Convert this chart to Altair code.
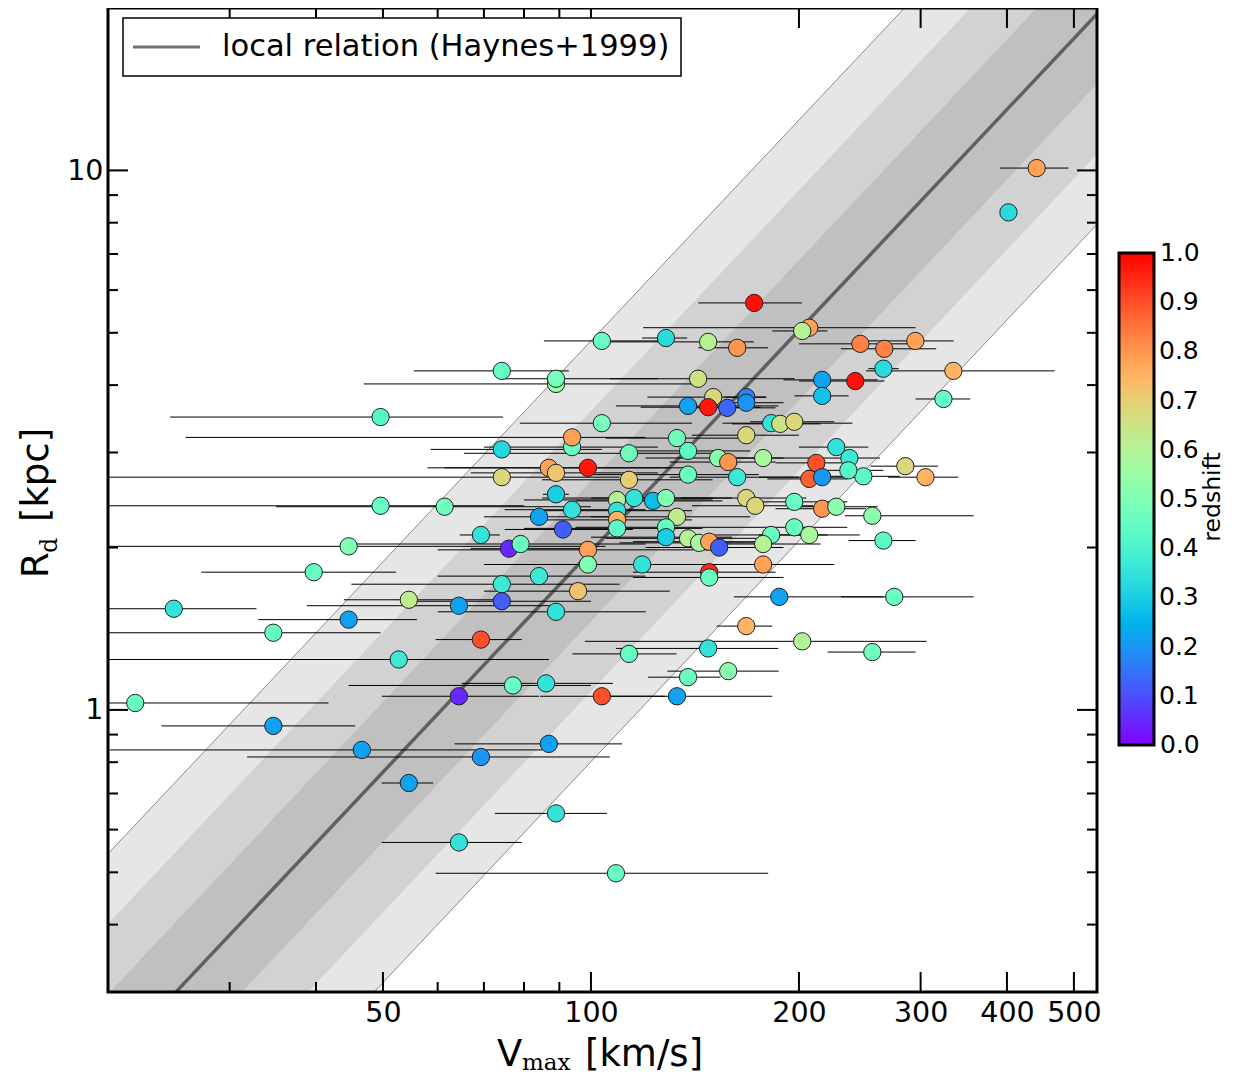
import altair as alt
import numpy as np
import pandas as pd

# ---------------- data ----------------
vmax = [441.6, 402.0, 172.3, 207.0, 202.2, 128.4, 147.8, 162.8, 103.7, 245.4,
        265.8, 294.8, 265.0, 334.6, 241.3, 216.1, 216.1, 323.7, 142.9, 150.3,
        138.2, 147.8, 157.5, 167.8, 167.8, 182.3, 187.9, 196.9, 167.8, 133.2,
        138.2, 113.5, 152.8, 158.0, 177.5, 226.5, 236.6, 247.9, 211.9, 207.0,
        216.1, 235.8, 138.2, 162.8, 113.5, 285.1, 304.9, 255.4, 265.0, 274.8,
        255.4, 202.2, 167.8, 187.3, 147.8, 113.5, 158.0, 138.2, 133.2, 103.7,
        108.7, 89.0, 64.4, 54.5, 69.3, 86.9, 46.6, 34.7, 21.9, 64.4,
        77.1, 86.1, 52.7, 69.3, 44.6, 34.7, 24.9, 39.7, 44.6, 49.6,
        61.4, 49.6, 74.3, 89.0, 89.0, 103.7, 93.9, 93.9, 74.3, 86.9,
        89.0, 99.0, 74.3, 89.0, 93.9, 84.1, 91.1, 109.1, 109.1, 109.1,
        109.1, 69.3, 76.1, 79.1, 99.0, 99.0, 84.1, 74.3, 95.8, 54.5,
        64.4, 74.3, 89.0, 115.5, 123.0, 128.4, 167.8, 172.9, 196.9, 216.1,
        226.5, 133.2, 128.4, 128.4, 138.2, 143.4, 148.3, 153.3, 196.9, 207.0,
        182.3, 177.5, 118.6, 177.5, 148.3, 148.3]
rd = [10.1, 8.36, 5.68, 5.11, 5.04, 4.89, 4.81, 4.69, 4.83, 4.77,
      4.67, 4.83, 4.29, 4.25, 4.07, 4.09, 3.82, 3.77, 4.11, 3.80,
      3.66, 3.64, 3.63, 3.80, 3.71, 3.40, 3.39, 3.42, 3.23, 3.19,
      3.02, 2.99, 2.93, 2.88, 2.93, 3.07, 2.93, 2.71, 2.87, 2.68,
      2.70, 2.78, 2.73, 2.70, 2.67, 2.83, 2.70, 2.29, 2.06, 1.62,
      1.28, 1.34, 1.43, 1.62, 1.30, 1.27, 1.18, 1.15, 1.06, 1.06,
      0.498, 0.643, 0.568, 0.732, 0.818, 0.865, 0.843, 0.934, 1.03, 1.06,
      1.11, 1.12, 1.24, 1.35, 1.47, 1.39, 1.54, 1.80, 2.01, 2.39,
      2.38, 3.49, 4.25, 4.02, 4.11, 3.40, 3.07, 3.20, 3.04, 2.81,
      2.75, 2.81, 2.70, 2.51, 2.35, 2.28, 2.16, 2.45, 2.34, 2.25,
      2.17, 2.11, 1.99, 2.03, 1.98, 1.86, 1.77, 1.71, 1.66, 1.60,
      1.56, 1.59, 1.52, 2.47, 2.44, 2.47, 2.47, 2.39, 2.43, 2.36,
      2.38, 2.28, 2.18, 2.09, 2.08, 2.04, 2.05, 2.00, 2.18, 2.11,
      2.11, 2.03, 1.86, 1.86, 1.80, 1.76]
vlo = [391, 396, 143, 119, 183, 118.6, 106.5, 143, 85.5, 200,
       230, 250, 252, 250, 200, 190, 197, 295, 106.5, 120.7,
       108.7, 118, 135, 156, 145, 155, 160, 170, 140, 105,
       110, 65.5, 120, 130, 150, 200, 210, 215, 185, 180,
       175, 205, 100, 130, 85, 254, 269, 233, 236, 230,
       220, 98, 152, 161, 108.7, 94, 129, 121, 105, 84.4,
       59.6, 72.6, 49.8, 49.8, 31.8, 63.5, 20.1, 23.9, 20, 49.8,
       44.6, 65, 20, 59.6, 33, 20, 20, 27.3, 20, 20,
       35, 24.6, 55.4, 46.9, 74.6, 78.9, 70, 25.9, 58.6, 58,
       67, 61.4, 20, 85.2, 75, 70, 75, 80, 85, 85,
       80, 64.6, 67, 45, 60, 70, 60, 45, 70, 43.9,
       38.8, 55, 60, 85, 95, 100, 135, 140, 165, 185,
       195, 100, 95, 100, 105, 110, 115, 120, 165, 175,
       150, 145, 90, 140, 115, 115]
vhi = [491, 408, 202, 295, 220, 137.8, 172, 180.5, 128, 290,
       316, 335, 279, 469, 266, 260, 236, 354, 197, 179,
       186.7, 176, 185, 179.5, 190, 239, 215, 225, 200, 165,
       170, 150, 190, 185, 210, 252, 262, 280, 240, 235,
       250, 265, 175, 200, 150, 318, 340, 358, 295, 358,
       295, 306, 183, 265, 186.7, 133, 187, 154, 183, 128,
       180.5, 105.5, 79.4, 59.1, 106.5, 110.9, 85, 45.6, 41.7, 84.1,
       100, 107.6, 86.9, 79.4, 56, 49.6, 32.8, 52.2, 105, 80,
       100, 74.6, 92.9, 145, 125, 140, 125, 120, 103.7, 130,
       125, 140, 110, 92.9, 120, 110, 115, 150, 140, 140,
       145, 73.8, 100, 120, 150, 140, 120, 110, 130, 75,
       90, 100, 120, 150, 155, 160, 205, 210, 235, 250,
       260, 170, 165, 160, 175, 180, 185, 190, 235, 245,
       220, 215, 155, 225, 185, 190]
zred = [0.78, 0.33, 0.98, 0.78, 0.60, 0.33, 0.60, 0.80, 0.45, 0.83,
        0.83, 0.78, 0.33, 0.75, 0.98, 0.22, 0.28, 0.45, 0.65, 0.68,
        0.22, 0.97, 0.13, 0.17, 0.20, 0.35, 0.65, 0.68, 0.68, 0.47,
        0.43, 0.47, 0.52, 0.80, 0.58, 0.35, 0.37, 0.43, 0.90, 0.88,
        0.20, 0.42, 0.45, 0.37, 0.70, 0.68, 0.75, 0.52, 0.43, 0.45,
        0.47, 0.60, 0.75, 0.22, 0.35, 0.45, 0.52, 0.45, 0.22, 0.90,
        0.45, 0.35, 0.35, 0.22, 0.20, 0.22, 0.22, 0.22, 0.45, 0.05,
        0.45, 0.35, 0.37, 0.90, 0.22, 0.45, 0.35, 0.45, 0.50, 0.45,
        0.47, 0.42, 0.45, 0.55, 0.48, 0.48, 0.45, 0.78, 0.32, 0.78,
        0.72, 0.97, 0.68, 0.30, 0.35, 0.22, 0.12, 0.60, 0.35, 0.75,
        0.43, 0.35, 0.05, 0.45, 0.78, 0.50, 0.37, 0.37, 0.72, 0.62,
        0.22, 0.12, 0.35, 0.35, 0.27, 0.50, 0.68, 0.68, 0.45, 0.80,
        0.52, 0.62, 0.45, 0.30, 0.60, 0.58, 0.78, 0.12, 0.45, 0.58,
        0.45, 0.60, 0.35, 0.78, 0.95, 0.45]

x_major = [50, 100, 200, 300, 400, 500]
x_minor = [30, 40, 60, 70, 80, 90]
y_major = [1, 10]
y_minor = [0.3, 0.4, 0.5, 0.6, 0.7, 0.8, 0.9, 2, 3, 4, 5, 6, 7, 8, 9]
z_inner_ticks = [0.1, 0.2, 0.3, 0.4, 0.5, 0.6, 0.7, 0.8, 0.9]
z_end_labels = ["1.0", "0.0"]

# local relation (log Rd = a + b log Vmax) and its scatter
rel_slope = 1.36
rel_icpt = -2.426
rel_sigma = 0.13
x_ends = [20.0, 540.0]
rel_label = "local relation (Haynes+1999)"

W, H = 989, 984
FONT = "DejaVu Sans"

xs = alt.Scale(type="log", domain=[20, 540])
ys = alt.Scale(type="log", domain=[0.3, 20])

xax = alt.Axis(values=x_major, format="d", ticks=False, tickSize=0, domain=False, grid=False,
               labelFont=FONT, labelFontSize=28.5, labelColor="black", labelPadding=6,
               labelFlush=False, labelOverlap=False, title=None)
yax = alt.Axis(values=y_major, format="d", ticks=False, tickSize=0, domain=False, grid=False,
               labelFont=FONT, labelFontSize=28.5, labelColor="black", labelPadding=5,
               labelFlush=False, labelOverlap=False, title=None)


# matplotlib 'rainbow' colormap stops
def rainbow_hex(t):
    r = min(1.0, abs(2 * t - 0.5))
    g = max(0.0, min(1.0, np.sin(np.pi * t)))
    b = max(0.0, min(1.0, np.cos(np.pi * t / 2)))
    return "#%02x%02x%02x" % (int(round(r * 255)), int(round(g * 255)), int(round(b * 255)))


cm_dom = [float(t) for t in np.linspace(0, 1, 21)]
cm_rng = [rainbow_hex(t) for t in cm_dom]

pts = pd.DataFrame({"v": vmax, "r": rd, "lo": vlo, "hi": vhi, "z": zred})

lv = np.log10(np.array(x_ends))
mid = rel_icpt + rel_slope * lv


def band(k):
    return pd.DataFrame({"v": x_ends, "lo": 10 ** (mid - k * rel_sigma), "hi": 10 ** (mid + k * rel_sigma)})


def seg(k):
    return pd.DataFrame({"v1": [x_ends[0]], "v2": [x_ends[1]],
                         "r1": [10 ** (mid[0] + k * rel_sigma)], "r2": [10 ** (mid[1] + k * rel_sigma)]})


layers = []
for k, col in [(3, "#e6e6e6"), (2, "#d2d2d2"), (1, "#c0c0c0")]:
    layers.append(alt.Chart(band(k)).mark_area(color=col, clip=True).encode(
        x=alt.X("v:Q", scale=xs, axis=xax),
        y=alt.Y("lo:Q", scale=ys, axis=yax),
        y2="hi:Q"))

for k in (3, -3):
    layers.append(alt.Chart(seg(k)).mark_rule(color="#8c8c8c", strokeWidth=1, clip=True).encode(
        x=alt.X("v1:Q", scale=xs, axis=xax), x2="v2:Q",
        y=alt.Y("r1:Q", scale=ys, axis=yax), y2="r2:Q"))

layers.append(alt.Chart(seg(0)).mark_rule(color="#606060", strokeWidth=3.5, clip=True).encode(
    x=alt.X("v1:Q", scale=xs, axis=xax), x2="v2:Q",
    y=alt.Y("r1:Q", scale=ys, axis=yax), y2="r2:Q"))

# horizontal error bars
layers.append(alt.Chart(pts).mark_rule(color="black", strokeWidth=1, clip=True).encode(
    x=alt.X("lo:Q", scale=xs, axis=xax), x2="hi:Q",
    y=alt.Y("r:Q", scale=ys, axis=yax)))

# points coloured by redshift (with colour bar)
layers.append(alt.Chart(pts).mark_circle(size=300, stroke="#222222", strokeWidth=1, opacity=1, clip=True).encode(
    x=alt.X("v:Q", scale=xs, axis=xax),
    y=alt.Y("r:Q", scale=ys, axis=yax),
    fill=alt.Fill("z:Q", scale=alt.Scale(domain=cm_dom, range=cm_rng, interpolate="rgb"),
                  legend=alt.Legend(orient="none", legendX=1011, legendY=245, direction="vertical",
                                    gradientLength=492, gradientThickness=35,
                                    gradientStrokeColor="black", gradientStrokeWidth=3,
                                    values=z_inner_ticks, format=".1f", labelFont=FONT, labelFontSize=25,
                                    labelColor="black", labelOffset=5, labelOverlap=False,
                                    title=None, padding=0))))


# inside ticks on all four sides
def ticks(vals, side, length):
    d = pd.DataFrame({"t": vals})
    m = alt.Chart(d).mark_rule(color="black", strokeWidth=2)
    if side == "bottom":
        return m.encode(x=alt.X("t:Q", scale=xs, axis=xax), y=alt.value(H - length), y2=alt.value(H))
    if side == "top":
        return m.encode(x=alt.X("t:Q", scale=xs, axis=xax), y=alt.value(0), y2=alt.value(length))
    if side == "left":
        return m.encode(y=alt.Y("t:Q", scale=ys, axis=yax), x=alt.value(0), x2=alt.value(length))
    return m.encode(y=alt.Y("t:Q", scale=ys, axis=yax), x=alt.value(W - length), x2=alt.value(W))


for side in ("bottom", "top"):
    layers.append(ticks(x_major, side, 20))
    layers.append(ticks(x_minor, side, 10))
for side in ("left", "right"):
    layers.append(ticks(y_major, side, 20))
    layers.append(ticks(y_minor, side, 10))

one = pd.DataFrame({"a": [0]})
# frame
layers.append(alt.Chart(one).mark_rect(fillOpacity=0, stroke="black", strokeWidth=3).encode(
    x=alt.value(0), x2=alt.value(W), y=alt.value(0), y2=alt.value(H)))

# legend box for the local relation
layers.append(alt.Chart(one).mark_rect(fill="white", stroke="black", strokeWidth=1.5).encode(
    x=alt.value(15), x2=alt.value(573), y=alt.value(10), y2=alt.value(68)))
layers.append(alt.Chart(one).mark_rule(color="#707070", strokeWidth=3).encode(
    x=alt.value(25), x2=alt.value(92), y=alt.value(39)))


def label(txt, x, y, size, font=FONT, angle=0, align="left", baseline="alphabetic"):
    return alt.Chart(one).mark_text(text=txt, font=font, fontSize=size, color="black", align=align,
                                    baseline=baseline, angle=angle).encode(
        x=alt.value(x), y=alt.value(y))


layers.append(label(rel_label, 114, 39, 30.5, baseline="middle"))

# colour-bar end labels and title
layers.append(label(z_end_labels[0], 1052, 245, 25, baseline="middle"))
layers.append(label(z_end_labels[1], 1052, 737, 25, baseline="middle"))
layers.append(label("redshift", 1112, 489, 23.5, angle=270, align="center"))

# axis titles with subscripts
layers.append(label("V", 389, 1058, 37))
layers.append(label("max", 414, 1062, 23, font="DejaVu Serif"))
layers.append(label("[km/s]", 477, 1058, 37))
layers.append(label("R", -60, 570, 37, angle=270))
layers.append(label("d", -51, 545, 24, font="DejaVu Serif", angle=270))
layers.append(label("[kpc]", -60, 514, 37, angle=270))

chart = alt.layer(*layers).properties(
    width=W, height=H,
    autosize=alt.AutoSizeParams(type="none"),
    padding={"left": 100, "top": 0, "right": 130, "bottom": 84},
).configure_view(strokeWidth=0)

chart.save("out.html", embed_options={"renderer": "svg", "actions": False})
